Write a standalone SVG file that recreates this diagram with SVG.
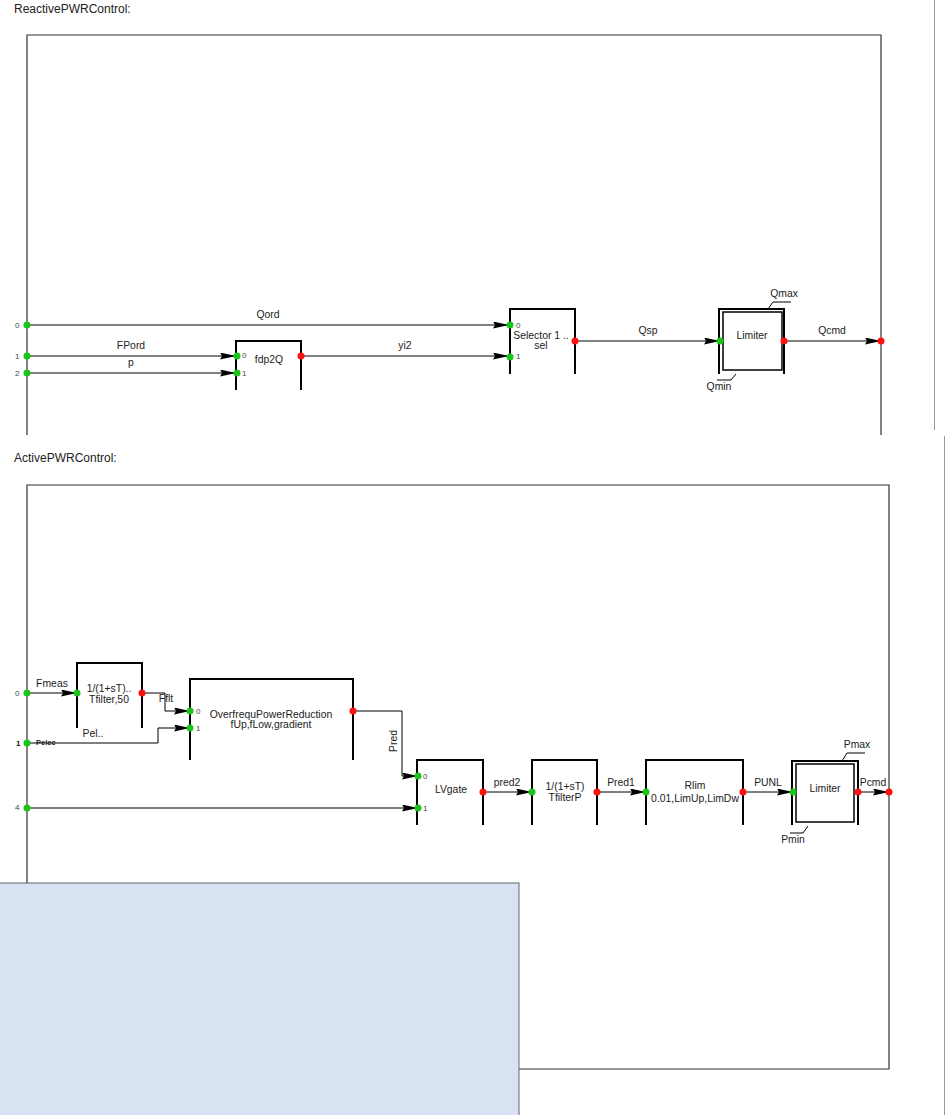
<svg xmlns="http://www.w3.org/2000/svg" width="948" height="1115" viewBox="0 0 948 1115">
<style>
text{font-family:"Liberation Sans",Arial,sans-serif;fill:#222}
.t{font-size:12px}
.l{font-size:10.4px}
.c{text-anchor:middle}
.pn{font-size:8px;fill:#444}
.frame{fill:none;stroke:#333;stroke-width:1.2}
.blk{fill:none;stroke:#000;stroke-width:2}
.w{fill:none;stroke:#000;stroke-width:1}
.ar{fill:none;stroke:#000;stroke-width:1;marker-end:url(#ah)}
.g{fill:#1bc41b}
.r{fill:#ff1010}
.gray{stroke:#999;stroke-width:1}
</style>
<defs>
<marker id="ah" viewBox="0 0 16 7" markerWidth="16" markerHeight="7" refX="16" refY="3.5" orient="auto" markerUnits="userSpaceOnUse">
<path d="M0,0 L16,3.5 L0,7 L2,3.5 z" fill="#000"/>
</marker>
</defs>
<rect width="948" height="1115" fill="#fff"/>
<line class="gray" x1="934.5" y1="0" x2="934.5" y2="430"/>
<line class="gray" x1="944.5" y1="436" x2="944.5" y2="1115"/>

<g id="reactive-frame">
<text class="t" x="14" y="13">ReactivePWRControl:</text>
<path class="frame" d="M27,435 V35 H881 V435"/>
</g>

<g id="active-frame">
<text class="t" x="14" y="462">ActivePWRControl:</text>
<path class="frame" d="M27,883 V485 H889 V1069 H519"/>
</g>

<g id="connectors">
<path class="ar" d="M27,325 H509"/>
<text class="l c" x="268" y="318">Qord</text>
<path class="ar" d="M27,356 H236"/>
<text class="l c" x="131" y="349">FPord</text>
<path class="ar" d="M27,373 H236"/>
<text class="l c" x="131" y="366">p</text>
<path class="ar" d="M301,356 H509"/>
<text class="l c" x="405" y="349">yi2</text>
<path class="ar" d="M575,341 H720"/>
<text class="l c" x="648" y="334">Qsp</text>
<path class="ar" d="M784,341 H881"/>
<text class="l c" x="832" y="334">Qcmd</text>

<path class="ar" d="M27,693 H77"/>
<text class="l c" x="52" y="687">Fmeas</text>
<path class="ar" d="M142,693 H165 V711 H190"/>
<text class="l c" x="166" y="702">Fflt</text>
<path class="ar" d="M27,743 H158 V728 H190"/>
<text x="36" y="745" style="font-size:7.5px;font-weight:bold">Pelec</text>
<path class="ar" d="M353,711 H402 V776 H418"/>
<text class="l c" transform="translate(397,741) rotate(-90)">Pred</text>
<path class="ar" d="M27,808 H418"/>
<path class="ar" d="M483,792 H532"/>
<text class="l c" x="507" y="786">pred2</text>
<path class="ar" d="M597,792 H646"/>
<text class="l c" x="621" y="786">Pred1</text>
<path class="ar" d="M743,792 H793"/>
<text class="l c" x="768" y="786">PUNL</text>
<path class="ar" d="M858,792 H889"/>
<text class="l c" x="873" y="786">Pcmd</text>
</g>

<g id="reactive-ports">
<text class="pn" x="15" y="328">0</text>
<circle class="g" cx="27" cy="325" r="3.5"/>
<text class="pn" x="15" y="359">1</text>
<circle class="g" cx="27" cy="356" r="3.5"/>
<text class="pn" x="15" y="376">2</text>
<circle class="g" cx="27" cy="373" r="3.5"/>
<circle class="r" cx="881" cy="341" r="3.5"/>
</g>

<g id="fdp2Q">
<path class="blk" d="M236,390 V341 H301 V390"/>
<text class="l c" x="269" y="363">fdp2Q</text>
<text class="pn" x="242" y="358">0</text>
<text class="pn" x="242" y="376">1</text>
<circle class="g" cx="237" cy="356" r="3.5"/>
<circle class="g" cx="237" cy="373" r="3.5"/>
<circle class="r" cx="301" cy="356" r="3.5"/>
</g>

<g id="selector">
<path class="blk" d="M510,374 V309 H575 V374"/>
<text class="l c" x="541" y="339">Selector 1 ..</text>
<text class="l c" x="541" y="349">sel</text>
<text class="pn" x="516" y="328">0</text>
<text class="pn" x="516" y="359">1</text>
<circle class="g" cx="510" cy="325" r="3.5"/>
<circle class="g" cx="510" cy="357" r="3.5"/>
<circle class="r" cx="575" cy="341" r="3.5"/>
</g>

<g id="q-limiter">
<path class="blk" d="M719,374 V309 H784 V374"/>
<rect x="723" y="312" width="59" height="58" fill="none" stroke="#000" stroke-width="1.5"/>
<text class="l c" x="752" y="339">Limiter</text>
<path class="w" d="M768,309 L773,302 H791"/>
<text class="l c" x="784" y="297">Qmax</text>
<path class="w" d="M736,374 L731,380 H717"/>
<text class="l c" x="719" y="390">Qmin</text>
<circle class="g" cx="720" cy="341" r="3.5"/>
<circle class="r" cx="784" cy="341" r="3.5"/>
</g>

<g id="active-ports">
<text class="pn" x="15" y="696">0</text>
<circle class="g" cx="27" cy="693" r="3.5"/>
<text x="16" y="746" style="font-size:8px;font-weight:bold;fill:#111">1</text>
<circle class="g" cx="27" cy="743" r="3.5"/>
<text class="pn" x="15" y="810">4</text>
<circle class="g" cx="27" cy="808" r="3.5"/>
<circle class="r" cx="889" cy="792" r="3.5"/>
</g>

<g id="filter">
<path class="blk" d="M77,728 V663 H142 V728"/>
<text class="l c" x="109" y="692">1/(1+sT)..</text>
<text class="l c" x="109" y="703">Tfilter,50</text>
<text class="l c" x="93" y="737">Pel..</text>
<circle class="g" cx="77" cy="693" r="3.5"/>
<circle class="r" cx="142" cy="693" r="3.5"/>
</g>

<g id="opr">
<path class="blk" d="M190,760 V679 H353 V760"/>
<text class="l c" x="271" y="718">OverfrequPowerReduction</text>
<text class="l c" x="271" y="728">fUp,fLow,gradient</text>
<text class="pn" x="196" y="714">0</text>
<text class="pn" x="196" y="731">1</text>
<circle class="g" cx="190" cy="711" r="3.5"/>
<circle class="g" cx="190" cy="728" r="3.5"/>
<circle class="r" cx="353" cy="711" r="3.5"/>
</g>

<g id="lvgate">
<path class="blk" d="M417,825 V760 H483 V825"/>
<text class="l c" x="451" y="793">LVgate</text>
<text class="pn" x="423" y="779">0</text>
<text class="pn" x="423" y="811">1</text>
<circle class="g" cx="418" cy="776" r="3.5"/>
<circle class="g" cx="418" cy="808" r="3.5"/>
<circle class="r" cx="483" cy="792" r="3.5"/>
</g>

<g id="filterP">
<path class="blk" d="M532,825 V760 H597 V825"/>
<text class="l c" x="565" y="790">1/(1+sT)</text>
<text class="l c" x="565" y="801">TfilterP</text>
<circle class="g" cx="532" cy="792" r="3.5"/>
<circle class="r" cx="597" cy="792" r="3.5"/>
</g>

<g id="rlim">
<path class="blk" d="M646,825 V760 H743 V825"/>
<text class="l c" x="695" y="789">Rlim</text>
<text class="l c" x="695" y="802">0.01,LimUp,LimDw</text>
<circle class="g" cx="646" cy="792" r="3.5"/>
<circle class="r" cx="743" cy="792" r="3.5"/>
</g>

<g id="p-limiter">
<path class="blk" d="M792,825 V761 H858 V825"/>
<rect x="796" y="764" width="58" height="58" fill="none" stroke="#000" stroke-width="1.5"/>
<text class="l c" x="825" y="792">Limiter</text>
<path class="w" d="M842,761 L847,753 H865"/>
<text class="l c" x="857" y="748">Pmax</text>
<path class="w" d="M808,826 L803,833 H790"/>
<text class="l c" x="793" y="843">Pmin</text>
<circle class="g" cx="793" cy="792" r="3.5"/>
<circle class="r" cx="858" cy="792" r="3.5"/>
</g>

<g id="overlay">
<rect x="-1" y="883" width="520" height="240" fill="#d9e2f3" stroke="#666" stroke-width="1"/>
</g>
</svg>
